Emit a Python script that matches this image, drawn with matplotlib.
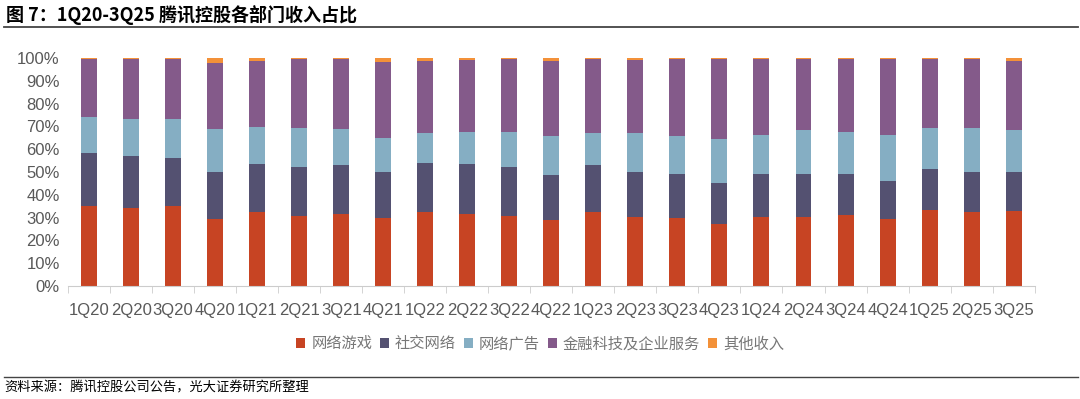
import numpy as np
import matplotlib.pyplot as plt

plt.rcParams['font.family'] = ['Noto Sans CJK SC', 'DejaVu Sans']

quarters = ['1Q20', '2Q20', '3Q20', '4Q20', '1Q21', '2Q21', '3Q21', '4Q21',
            '1Q22', '2Q22', '3Q22', '4Q22', '1Q23', '2Q23', '3Q23', '4Q23',
            '1Q24', '2Q24', '3Q24', '4Q24', '1Q25', '2Q25', '3Q25']

# segment shares (%)
games = [35.3, 34.2, 35.3, 29.3, 32.4, 30.9, 31.8, 29.8, 32.4, 31.8, 30.7, 28.9,
         32.4, 30.1, 29.8, 27.2, 30.1, 30.1, 31.1, 29.2, 33.3, 32.4, 33.0]
social = [22.8, 22.9, 20.9, 20.9, 21.2, 21.1, 21.2, 20.1, 21.5, 21.8, 21.4, 19.7,
          20.6, 20.0, 19.3, 18.1, 19.0, 19.0, 18.0, 16.9, 17.9, 17.4, 16.8]
ads = [16.1, 16.0, 16.9, 18.7, 16.2, 17.1, 15.9, 14.9, 13.1, 14.0, 15.2, 17.1,
       14.0, 16.9, 16.6, 19.1, 17.0, 19.1, 18.2, 20.0, 17.9, 19.3, 18.8]
fintech = [25.2, 26.3, 26.3, 28.8, 29.0, 30.3, 30.5, 33.4, 31.8, 31.5, 32.4, 32.8,
           32.7, 32.1, 34.0, 35.0, 33.3, 31.2, 32.1, 33.3, 30.6, 30.3, 30.2]
other = [100 - a - b - c - d for a, b, c, d in zip(games, social, ads, fintech)]

names = ['网络游戏', '社交网络', '网络广告', '金融科技及企业服务', '其他收入']
colors = ['#C74423', '#545171', '#85AEC3', '#845A8A', '#F39139']

fig = plt.figure(figsize=(10.8, 3.99), dpi=100)
ax = fig.add_axes([0.063, 0.283, 0.895, 0.572])

x = np.arange(len(quarters))
bottom = np.zeros(len(quarters))
for vals, name, c in zip([games, social, ads, fintech, other], names, colors):
    ax.bar(x, vals, 0.38, bottom=bottom, color=c, label=name)
    bottom += np.array(vals)

ax.set_xlim(-0.5, len(quarters) - 0.5)
ax.set_ylim(0, 100)
ax.set_yticks(np.arange(0, 101, 10))
ax.set_yticklabels([f'{v}%' for v in range(0, 101, 10)], fontsize=12,
                   color='#595959', family='Liberation Sans')
ax.set_xticks(x)
ax.set_xticklabels(quarters, fontsize=12, color='#595959', family='Liberation Sans')
ax.set_xticks(np.arange(-0.5, len(quarters), 1), minor=True)
ax.tick_params(axis='x', which='major', length=0, pad=12)
ax.tick_params(axis='x', which='minor', length=5, color='#CCCCCC')
ax.tick_params(axis='y', length=0, pad=6)
for s in ['top', 'right', 'left']:
    ax.spines[s].set_visible(False)
ax.spines['bottom'].set_color('#CCCCCC')

fig.legend(loc='center', bbox_to_anchor=(0.5, 0.138), ncol=5, frameon=False,
           fontsize=11, handlelength=0.6, handleheight=0.6, handletextpad=0.4,
           columnspacing=0.5, labelcolor='#777777')

fig.text(0.006, 0.963, '图 7：1Q20-3Q25 腾讯控股各部门收入占比', fontsize=13,
         fontweight='bold', va='center', ha='left')
fig.add_artist(plt.Line2D([0.004, 0.998], [0.932, 0.932], color='#444444', lw=1.3))
fig.add_artist(plt.Line2D([0.004, 0.998], [0.055, 0.055], color='#444444', lw=1.0))
fig.text(0.004, 0.028, '资料来源：腾讯控股公司公告，光大证券研究所整理', fontsize=9.5,
         va='center', ha='left')

fig.savefig('out.png', dpi=100)
